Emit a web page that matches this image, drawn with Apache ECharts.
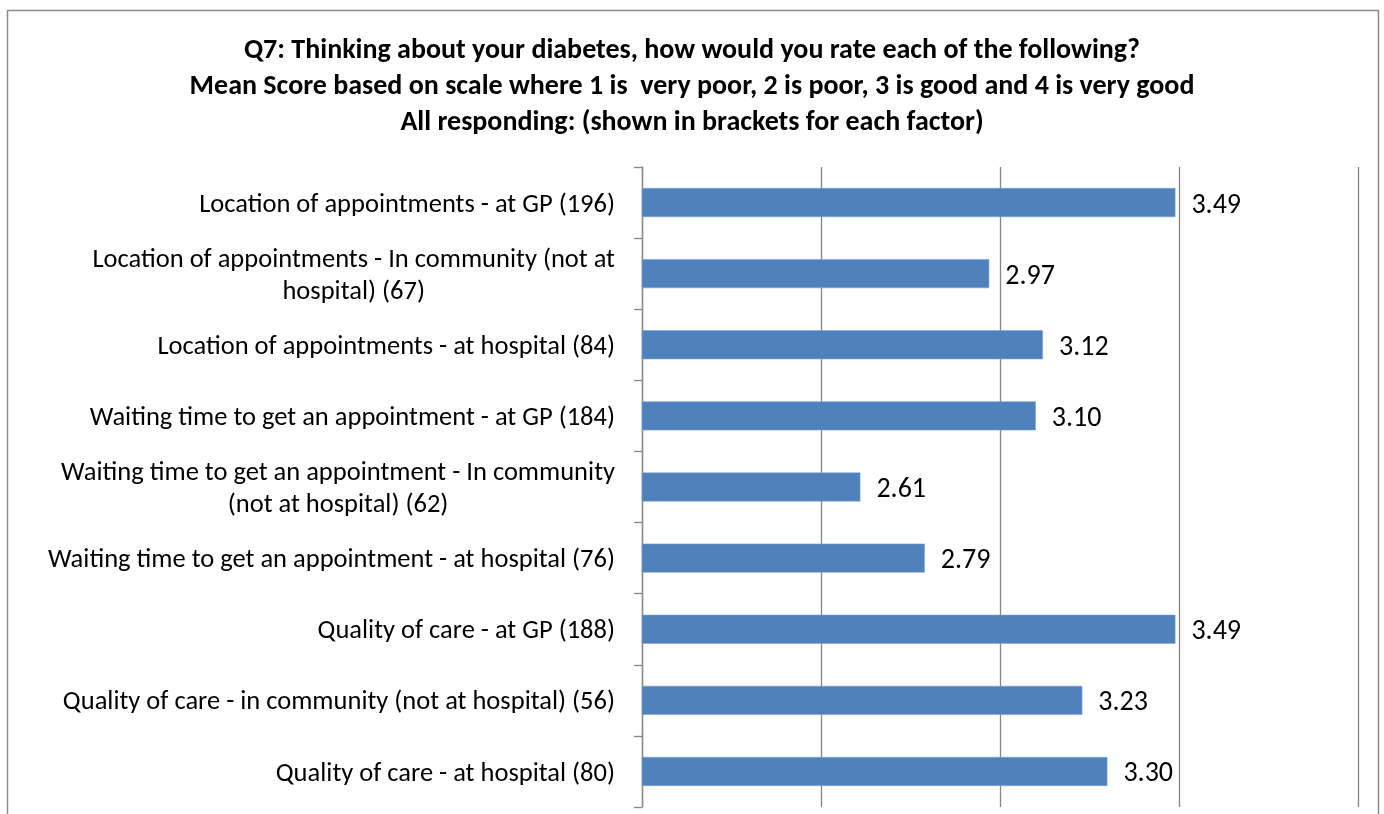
<!DOCTYPE html>
<html><head><meta charset="utf-8">
<script src="https://cdn.jsdelivr.net/npm/echarts@6/dist/echarts.min.js"></script>
<style>html,body{margin:0;padding:0;background:#fff}#c{width:1384px;height:814px}</style>
</head><body><div id="c"></div>
<script>
const titleLines = [
  'Q7: Thinking about your diabetes, how would you rate each of the following?',
  'Mean Score based on scale where 1 is  very poor, 2 is poor, 3 is good and 4 is very good',
  'All responding: (shown in brackets for each factor)'
];
const categories = [
  'Location of appointments - at GP (196)',
  'Location of appointments - In community (not at\nhospital) (67)',
  'Location of appointments - at hospital (84)',
  'Waiting time to get an appointment - at GP (184)',
  'Waiting time to get an appointment - In community\n(not at hospital) (62)',
  'Waiting time to get an appointment - at hospital (76)',
  'Quality of care - at GP (188)',
  'Quality of care - in community (not at hospital) (56)',
  'Quality of care - at hospital (80)'
];
const meanScores = [3.49, 2.97, 3.12, 3.10, 2.61, 2.79, 3.49, 3.23, 3.30];
const xMin = 2, xMax = 4, xInterval = 0.5;

const FONT = 'Carlito, "Liberation Sans Narrow", "Liberation Sans", sans-serif';
const LABEL_SIZE = 26.5;
const ctx = document.createElement('canvas').getContext('2d');
ctx.font = LABEL_SIZE + 'px ' + FONT;
function wrapWidth(s){ return Math.max.apply(null, s.split('\n').map(l => ctx.measureText(l).width)); }

// rich styles so that the lines of wrapped labels are centred on each other
const rich = {};
categories.forEach((c, i) => {
  if (c.indexOf('\n') >= 0) {
    rich['w' + i] = {width: wrapWidth(c), align: 'center', fontFamily: FONT,
                     fontSize: LABEL_SIZE, lineHeight: 32, color: '#000'};
  }
});

const chart = echarts.init(document.getElementById('c'), null, {renderer:'canvas'});
chart.setOption({
  backgroundColor: '#fff',
  animation: false,
  title: {
    text: titleLines.join('\n'),
    left: 'center',
    top: 28,
    textStyle: {fontFamily: FONT, fontSize: 28, fontWeight: 'bold', color: '#000', lineHeight: 36}
  },
  graphic: [{
    type: 'rect', silent: true, z: -1,
    shape: {x: 7.5, y: 10.5, width: 1371, height: 830},
    style: {fill: 'none', stroke: '#8c8c8c', lineWidth: 1.5}
  }],
  grid: {left: 642, right: 26, top: 167, bottom: 7, containLabel: false},
  xAxis: {
    type: 'value', min: xMin, max: xMax, interval: xInterval,
    axisLabel: {show: false}, axisTick: {show: false}, axisLine: {show: false},
    splitLine: {show: true, lineStyle: {color: '#868686', width: 1.3}}
  },
  yAxis: {
    type: 'category', data: categories, inverse: true,
    axisLine: {show: true, lineStyle: {color: '#868686', width: 1.3}},
    axisTick: {show: true, length: 8, inside: false, lineStyle: {color: '#868686', width: 1.3}},
    axisLabel: {
      margin: 27, color: '#000', fontFamily: FONT, fontSize: LABEL_SIZE, lineHeight: 32,
      padding: [5, 0, 0, 0],
      formatter: function (v) {
        const i = categories.indexOf(v);
        if (v.indexOf('\n') < 0) return v;
        return v.split('\n').map(l => '{w' + i + '|' + l + '}').join('\n');
      },
      rich: rich
    }
  },
  series: [{
    type: 'bar', data: meanScores, barWidth: 29,
    itemStyle: {color: '#4F81BD', borderColor: '#7FA3D1', borderWidth: 0.6},
    label: {
      show: true, position: 'right', distance: 16, color: '#000',
      fontFamily: FONT, fontSize: 28, offset: [0, 3],
      formatter: p => p.value.toFixed(2)
    }
  }]
});
</script></body></html>
